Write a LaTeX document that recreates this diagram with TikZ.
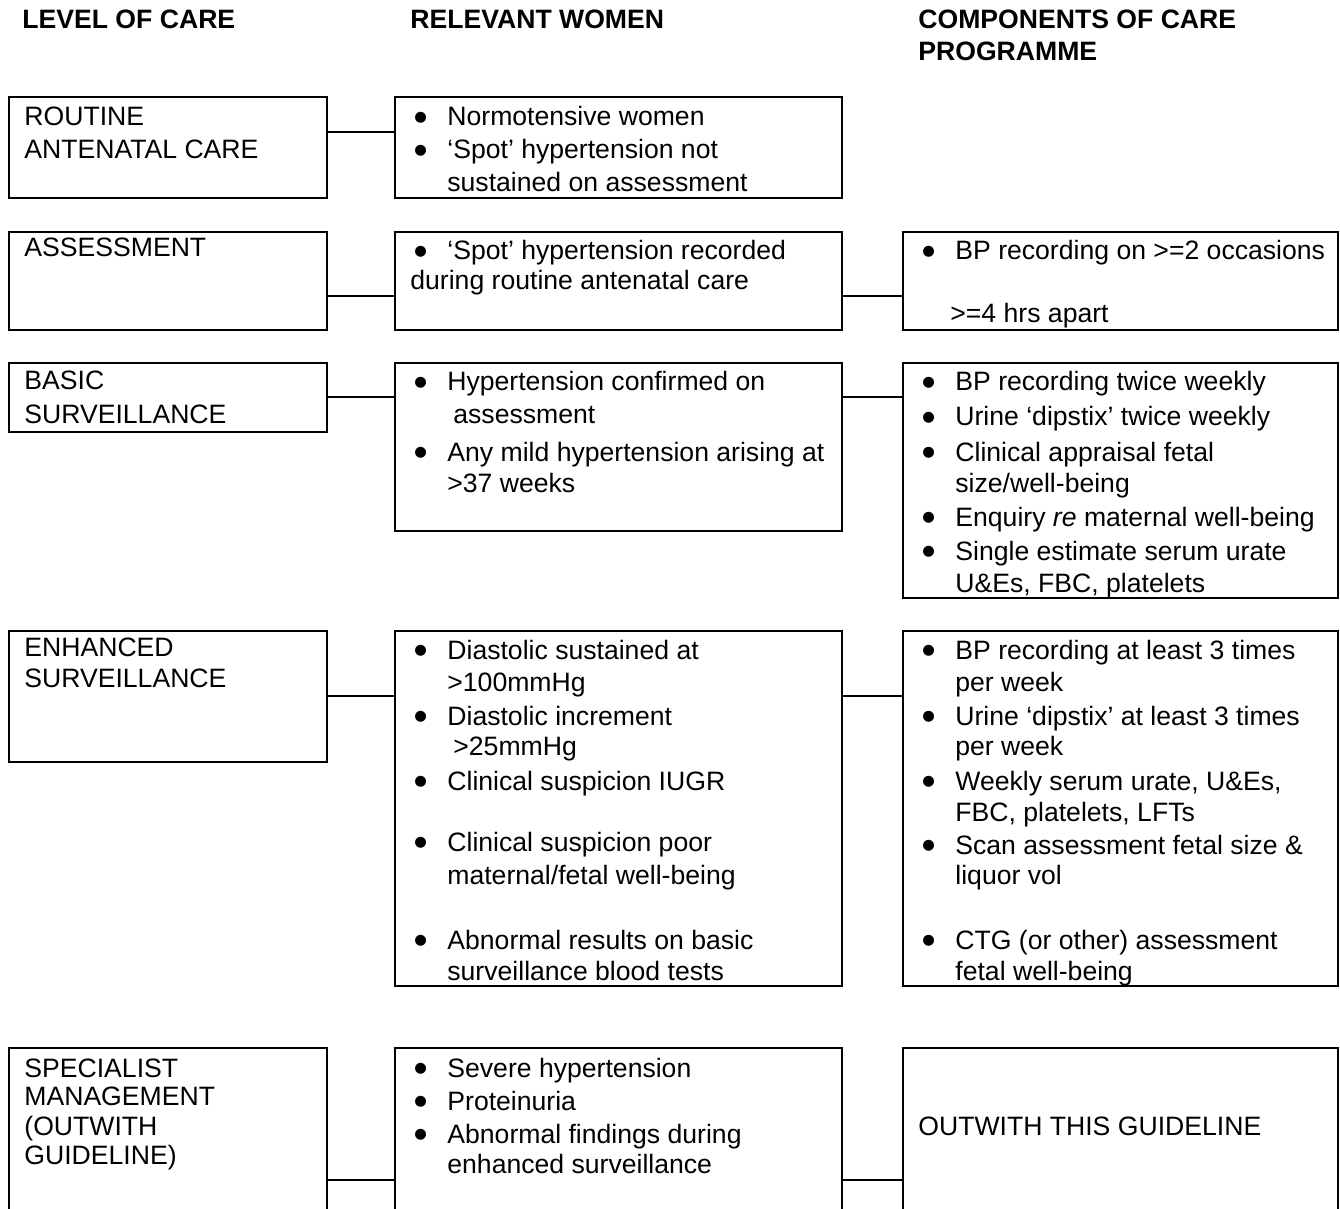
\documentclass[tikz,border=0pt]{standalone}
\usepackage{fontspec}
\setmainfont{Liberation Sans}
\newfontfamily\bulfont{DejaVu Sans}
\usetikzlibrary{fit}
\newcommand\tx[4]{\node[txt] (#1) at (#2,#3) {#4};}
\newcommand\bl[3]{\node[txt] (#1) at (#2,#3) {\raisebox{2.3pt}{\bulfont\fontsize{7.2pt}{8pt}\selectfont ●}};}
\begin{document}
\begin{tikzpicture}[x=0.5pt,y=-0.5pt,
  box/.style={draw,line width=1pt,inner sep=0pt},
  conn/.style={line width=1pt},
  txt/.style={anchor=base west,inner sep=0pt,font=\fontsize{13.3pt}{16pt}\selectfont},
  hdr/.style={txt,font=\fontsize{13.3pt}{16pt}\selectfont\bfseries}]
\useasboundingbox (0,0) rectangle (1340,1209);

% headers
\node[hdr] (h1) at (22,29) {LEVEL OF CARE};
\node[hdr] (h2) at (410,29) {RELEVANT WOMEN};
\node[hdr] (h3) at (918,29) {COMPONENTS OF CARE};
\node[hdr] (h3b) at (918,61) {PROGRAMME};

% boxes
\node[box,fit={(9,97) (327,198)}] (r1a) {};
\node[box,fit={(395,97) (842,198)}] (r1b) {};
\node[box,fit={(9,232) (327,330)}] (r2a) {};
\node[box,fit={(395,232) (842,330)}] (r2b) {};
\node[box,fit={(903,232) (1338,330)}] (r2c) {};
\node[box,fit={(9,363) (327,432)}] (r3a) {};
\node[box,fit={(395,363) (842,531)}] (r3b) {};
\node[box,fit={(903,363) (1338,598)}] (r3c) {};
\node[box,fit={(9,631) (327,762)}] (r4a) {};
\node[box,fit={(395,631) (842,986)}] (r4b) {};
\node[box,fit={(903,631) (1338,986)}] (r4c) {};
\node[box,fit={(9,1048) (327,1240)}] (r5a) {};
\node[box,fit={(395,1048) (842,1240)}] (r5b) {};
\node[box,fit={(903,1048) (1338,1240)}] (r5c) {};

% connector heights
\coordinate (y1) at (0,132);
\coordinate (y2) at (0,296);
\coordinate (y3) at (0,397);
\coordinate (y4) at (0,696);
\coordinate (y5) at (0,1180);
\draw[conn] (r1a.east |- y1) -- (r1b.west |- y1);
\draw[conn] (r2a.east |- y2) -- (r2b.west |- y2);
\draw[conn] (r2b.east |- y2) -- (r2c.west |- y2);
\draw[conn] (r3a.east |- y3) -- (r3b.west |- y3);
\draw[conn] (r3b.east |- y3) -- (r3c.west |- y3);
\draw[conn] (r4a.east |- y4) -- (r4b.west |- y4);
\draw[conn] (r4b.east |- y4) -- (r4c.west |- y4);
\draw[conn] (r5a.east |- y5) -- (r5b.west |- y5);
\draw[conn] (r5b.east |- y5) -- (r5c.west |- y5);

% row 1
\tx{a1}{24}{126}{ROUTINE}
\tx{a2}{24}{159}{ANTENATAL CARE}
\bl{b1}{414}{126}\tx{b1t}{447}{126}{Normotensive women}
\bl{b2}{414}{159}\tx{b2t}{447}{159}{‘Spot’ hypertension not}
\tx{b2u}{447}{192}{sustained on assessment}

% row 2
\tx{a3}{24}{257}{ASSESSMENT}
\bl{b3}{414}{260}\tx{b3t}{447}{260}{‘Spot’ hypertension recorded}
\tx{b3u}{410}{290}{during routine antenatal care}
\bl{c1}{922}{260}\tx{c1t}{955}{260}{BP recording on >=2 occasions}
\tx{c1u}{950}{323}{>=4 hrs apart}

% row 3
\tx{a4}{24}{390}{BASIC}
\tx{a5}{24}{423}{SURVEILLANCE}
\bl{b4}{414}{391}\tx{b4t}{447}{391}{Hypertension confirmed on}
\tx{b4u}{453}{423}{assessment}
\bl{b5}{414}{461}\tx{b5t}{447}{461}{Any mild hypertension arising at}
\tx{b5u}{447}{493}{>37 weeks}
\bl{c2}{922}{391}\tx{c2t}{955}{391}{BP recording twice weekly}
\bl{c3}{922}{426}\tx{c3t}{955}{426}{Urine ‘dipstix’ twice weekly}
\bl{c4}{922}{461}\tx{c4t}{955}{461}{Clinical appraisal fetal}
\tx{c4u}{955}{493}{size/well-being}
\bl{c5}{922}{526}\tx{c5t}{955}{526}{Enquiry \textit{re} maternal well-being}
\bl{c6}{922}{560}\tx{c6t}{955}{560}{Single estimate serum urate}
\tx{c6u}{955}{592}{U\&Es, FBC, platelets}

% row 4
\tx{a6}{24}{656}{ENHANCED}
\tx{a7}{24}{687}{SURVEILLANCE}
\bl{b6}{414}{659}\tx{b6t}{447}{659}{Diastolic sustained at}
\tx{b6u}{447}{691}{>100mmHg}
\bl{b7}{414}{725}\tx{b7t}{447}{725}{Diastolic increment}
\tx{b7u}{453}{755}{>25mmHg}
\bl{b8}{414}{790}\tx{b8t}{447}{790}{Clinical suspicion IUGR}
\bl{b9}{414}{851}\tx{b9t}{447}{851}{Clinical suspicion poor}
\tx{b9u}{447}{884}{maternal/fetal well-being}
\bl{b10}{414}{949}\tx{b10t}{447}{949}{Abnormal results on basic}
\tx{b10u}{447}{980}{surveillance blood tests}
\bl{c7}{922}{659}\tx{c7t}{955}{659}{BP recording at least 3 times}
\tx{c7u}{955}{691}{per week}
\bl{c8}{922}{725}\tx{c8t}{955}{725}{Urine ‘dipstix’ at least 3 times}
\tx{c8u}{955}{755}{per week}
\bl{c9}{922}{790}\tx{c9t}{955}{790}{Weekly serum urate, U\&Es,}
\tx{c9u}{955}{821}{FBC, platelets, LFTs}
\bl{c10}{922}{854}\tx{c10t}{955}{854}{Scan assessment fetal size \&}
\tx{c10u}{955}{884}{liquor vol}
\bl{c11}{922}{949}\tx{c11t}{955}{949}{CTG (or other) assessment}
\tx{c11u}{955}{980}{fetal well-being}

% row 5
\tx{a8}{24}{1077}{SPECIALIST}
\tx{a9}{24}{1105}{MANAGEMENT}
\tx{a10}{24}{1135}{(OUTWITH}
\tx{a11}{24}{1164}{GUIDELINE)}
\bl{b11}{414}{1077}\tx{b11t}{447}{1077}{Severe hypertension}
\bl{b12}{414}{1110}\tx{b12t}{447}{1110}{Proteinuria}
\bl{b13}{414}{1143}\tx{b13t}{447}{1143}{Abnormal findings during}
\tx{b13u}{447}{1173}{enhanced surveillance}
\tx{c12}{918}{1135}{OUTWITH THIS GUIDELINE}
\end{tikzpicture}
\end{document}
